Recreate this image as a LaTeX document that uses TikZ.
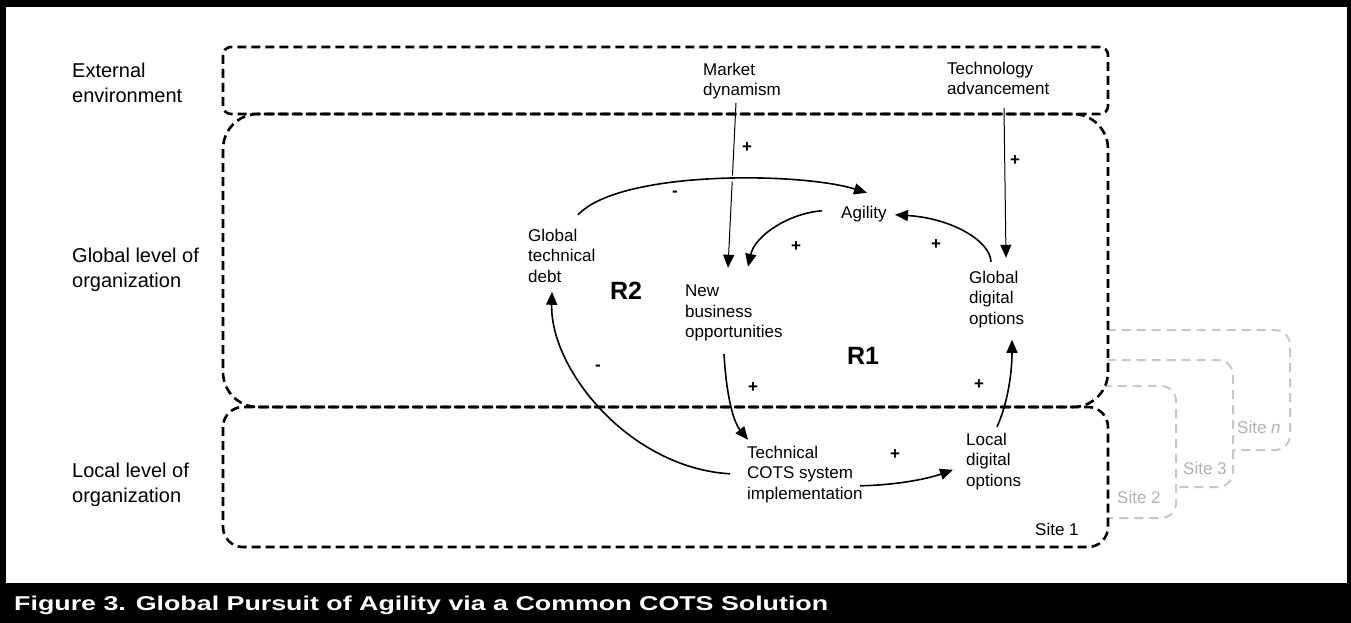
\documentclass[tikz,border=0pt]{standalone}
\usepackage{fontspec}
\setmainfont{Liberation Sans}
\usetikzlibrary{arrows.meta}

\begin{document}
\begin{tikzpicture}[x=1pt,y=-1pt,
  lvl/.style={anchor=north west, inner sep=0pt, align=left, font=\fontsize{20}{25}\selectfont},
  var/.style={anchor=north west, inner sep=0pt, align=left, font=\fontsize{17}{20.5}\selectfont},
  sgn/.style={inner sep=0pt, font=\bfseries\fontsize{17}{20}\selectfont},
  loopname/.style={inner sep=0pt, font=\bfseries\fontsize{25}{30}\selectfont},
  link/.style={line width=1.6pt, -{Triangle[length=13pt,width=11pt]}},
  thinlink/.style={line width=1pt, -{Triangle[length=13pt,width=11pt]}},
  level/.style={draw=black, line width=2.6pt, dash pattern=on 9pt off 5pt},
  site/.style={draw=black!22, fill=white, line width=2pt, dash pattern=on 9pt off 6pt},
  sitelabel/.style={anchor=base west, inner sep=0pt, text=black!30, font=\fontsize{17}{20}\selectfont}
]
\useasboundingbox (0,0) rectangle (1351,623);

% frame and caption band
\fill[black] (0,0) rectangle (1351,623);
\fill[white] (6,7) rectangle (1347,583);

% stacked site cards (back to front)
\draw[site, rounded corners=15pt] (800,330) rectangle (1290,450);
\draw[site, rounded corners=15pt] (760,360) rectangle (1233,487);
\draw[site, rounded corners=15pt] (720,386) rectangle (1176,518);

% level boxes
\fill[white, rounded corners=35pt] (223,114) rectangle (1108,407);
\fill[white, rounded corners=20pt] (223,407) rectangle (1108,547);
\draw[level, rounded corners=8pt] (223,47) rectangle (1108,114);
\draw[level, rounded corners=35pt] (223,114) rectangle (1108,407);
\draw[level, rounded corners=20pt] (223,407) rectangle (1108,547);

% level labels
\node[lvl] (ext-l) at (72,62.7) {External\\environment};
\node[lvl] (glob-l) at (72,247.7) {Global level of\\organization};
\node[lvl] (loc-l) at (72,462.7) {Local level of\\organization};

% site labels
\node[sitelabel] (site2) at (1117,503) {Site 2};
\node[sitelabel] (site3) at (1183,474) {Site 3};
\node[sitelabel] (siten) at (1237,433) {Site \textit{n}};
\node[sitelabel, text=black] (site1) at (1035,535) {Site 1};

% variables
\node[var] (md) at (703,62.8) {Market\\dynamism};
\node[var] (ta) at (947,61.8) {Technology\\advancement};
\node[var] (agi) at (841,205.8) {Agility};
\node[var] (gtd) at (528,228.8) {Global\\technical\\debt};
\node[var] (nbo) at (685,284.8) {New\\business\\opportunities};
\node[var] (gdo) at (969,270.8) {Global\\digital\\options};
\node[var] (ldo) at (966,432.8) {Local\\digital\\options};
\node[var] (cts) at (747,445.8) {Technical\\COTS system\\implementation};

% causal links
\draw[thinlink] ([shift={(33,40)}]md.north west) -- ([shift={(43,-17)}]nbo.north west);
\draw[thinlink] ([shift={(57,46)}]ta.north west) -- ([shift={(37,-13)}]gdo.north west);
\draw[link, preaction={draw=white, line width=6pt, -}] ([shift={(50,-14)}]gtd.north west)
  .. controls (620,170) and (800,172) .. ([shift={(26,-13)}]agi.north west);
\draw[link] ([shift={(-19,5)}]agi.north west)
  .. controls (790,213) and (755,235) .. ([shift={(63,-18)}]nbo.north west);
\draw[link] ([shift={(22,-9)}]gdo.north west)
  .. controls (990,240) and (950,218) .. ([shift={(54,9)}]agi.north west);
\draw[link] ([shift={(39,69)}]nbo.north west)
  .. controls (726,390) and (732,420) .. ([shift={(1,-6)}]cts.north west);
\draw[link] ([shift={(31,-6)}]ldo.north west)
  .. controls (1007,405) and (1012,375) .. ([shift={(43,69)}]gdo.north west);
\draw[link] ([shift={(113,40)}]cts.north west)
  .. controls (900,485) and (930,478) .. ([shift={(-13,37)}]ldo.north west);
\draw[link] ([shift={(-17,28)}]cts.north west)
  .. controls (630,468) and (550,370) .. ([shift={(24,63)}]gtd.north west);

% polarities
\node[sgn] (p-md) at (747,148) {+};
\node[sgn] (p-ta) at (1015,161) {+};
\node[sgn] (p-gtd) at (675,194) {-};
\node[sgn] (p-agi) at (796,247) {+};
\node[sgn] (p-gdo) at (936,245) {+};
\node[sgn] (p-nbo) at (753,388) {+};
\node[sgn] (p-ldo) at (979,385) {+};
\node[sgn] (p-cts) at (895,455) {+};
\node[sgn] (p-debt) at (598,368) {-};

% loop names
\node[loopname] (r2) at (626,291) {R2};
\node[loopname] (r1) at (863,356) {R1};

% caption
\node[anchor=base west, inner sep=0pt, text=white, font=\bfseries\fontsize{20}{24}\selectfont] (cap) at (14,610)
  {\scalebox{1.34}[1]{Figure 3. Global Pursuit of Agility via a Common COTS Solution}};
\end{tikzpicture}
\end{document}
